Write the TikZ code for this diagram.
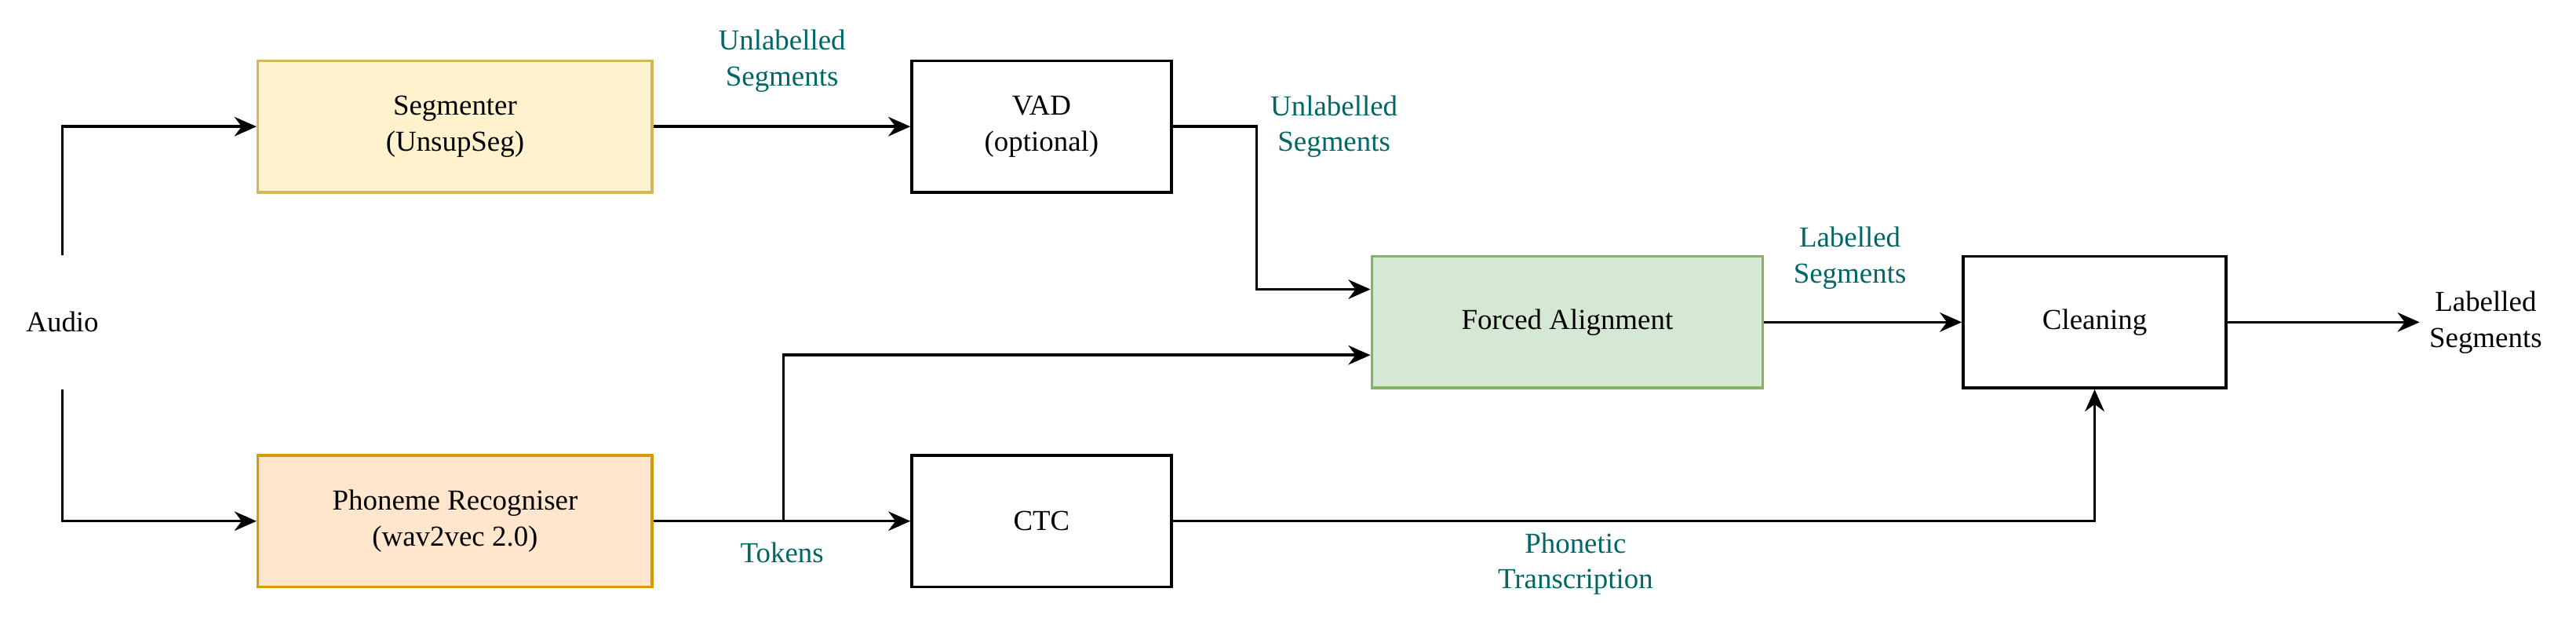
\documentclass[tikz,border=0pt]{standalone}
\usepackage{fontspec}
\setmainfont{Liberation Serif}
\usetikzlibrary{arrows.meta}
\definecolor{lbl}{HTML}{006666}
\begin{document}
\begin{tikzpicture}[x=0.02094cm,y=-0.02094cm,
  font=\fontsize{10.5}{13}\selectfont,
  box/.style={draw,line width=1pt,minimum height=80*0.02094cm,align=center,inner sep=0pt},
  ar/.style={line width=1pt,-{Stealth[length=8pt,width=7pt]}},
  ln/.style={line width=1pt},
  lab/.style={text=lbl,align=center}]
\useasboundingbox (0,0) rectangle (1568,380);
\node[box,fill={rgb,255:red,255;green,242;blue,204},draw={rgb,255:red,214;green,182;blue,86},minimum width=240*0.02094cm] (seg) at (277,77) {Segmenter\\(UnsupSeg)};
\node[box,minimum width=158*0.02094cm] (vad) at (634,77) {VAD\\(optional)};
\node[box,fill={rgb,255:red,213;green,232;blue,212},draw={rgb,255:red,130;green,179;blue,102},minimum width=238*0.02094cm] (fa) at (954,196) {Forced Alignment};
\node[box,minimum width=160*0.02094cm] (cl) at (1275,196) {Cleaning};
\node[box,fill={rgb,255:red,255;green,230;blue,204},draw={rgb,255:red,215;green,155;blue,0},minimum width=240*0.02094cm] (pr) at (277,317) {Phoneme Recogniser\\(wav2vec 2.0)};
\node[box,minimum width=158*0.02094cm] (ctc) at (634,317) {CTC};
\node (au) at (38,196) {Audio};
\node[align=center] (out) at (1513,196) {Labelled\\Segments};
\coordinate (a1) at (38,155); \coordinate (a2) at (38,237);
\draw[ar] (a1) |- (seg.west);
\draw[ar] (a2) |- (pr.west);
\draw[ar] (seg) -- (vad);
\draw[ar] (vad.east) -- (765,77) |- (fa.west|-0,176);
\draw[ar] (pr) -- (ctc);
\draw[ar] (477,317) |- (fa.west|-0,216);
\draw[ar] (ctc.east) -| (cl.south);
\draw[ar] (fa) -- (cl);
\draw[ar] (cl) -- (out);
\node[lab] at (476,37) {Unlabelled\\Segments};
\node[lab] at (812,77) {Unlabelled\\Segments};
\node[lab] at (1126,157) {Labelled\\Segments};
\node[lab] at (476,336) {Tokens};
\node[lab] at (959,343) {Phonetic\\Transcription};
\end{tikzpicture}
\end{document}
